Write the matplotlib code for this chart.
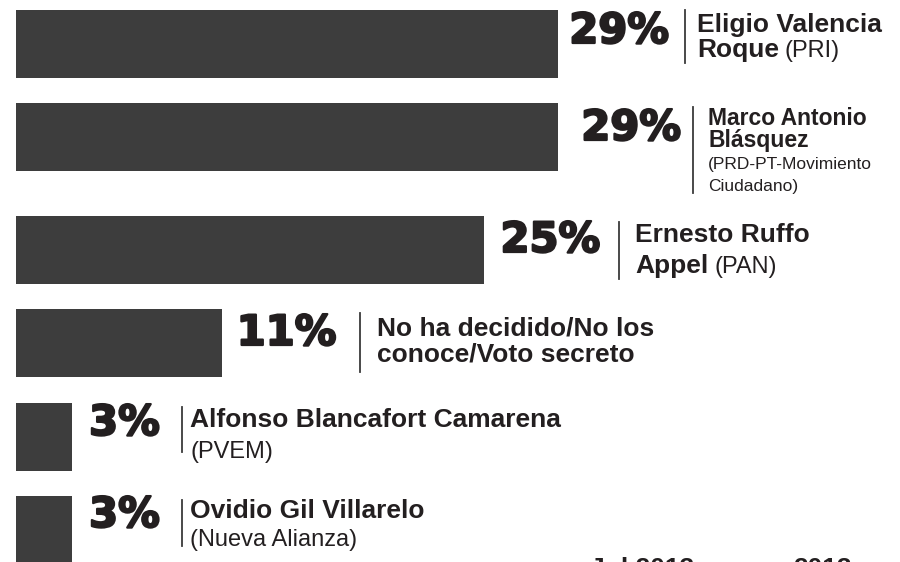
import matplotlib
matplotlib.use("Agg")
import matplotlib.pyplot as plt
import matplotlib.transforms as mtransforms
import matplotlib.patheffects as pe

# ---- data ----
values = [29, 29, 25, 11, 3, 3]
names_bold = [
    ["Eligio Valencia", "Roque"],
    ["Marco Antonio", "Blásquez"],
    ["Ernesto Ruffo", "Appel"],
    ["No ha decidido/No los", "conoce/Voto secreto"],
    ["Alfonso Blancafort Camarena"],
    ["Ovidio Gil Villarelo"],
]
names_normal = [
    [None, "(PRI)"],
    [None, None, "(PRD-PT-Movimiento", "Ciudadano)"],
    [None, "(PAN)"],
    [None, None],
    [None, "(PVEM)"],
    [None, "(Nueva Alianza)"],
]
footer_labels = ["Jul 2013", "2013"]

# ---- layout (pixels from top-left) ----
W, H = 900, 562
bar_centers = [44, 137, 249.5, 343, 437, 530]
bar_height = 68
pct_gap = [11, 23, 17, 15, 17, 17]
pct_base = [43, 140, 252, 345, 435, 527]
sep_x = [685, 693, 619, 360, 182, 182]
sep_y = [(10, 63), (107, 193), (222, 279), (313, 372), (407, 452), (500, 546)]
name_x = [697, 708, 635, 377, 190, 190]
name_base = [[32, 57], [125, 147, 169, 191], [242, 273], [335, 362], [427, 458], [518, 546]]
name_size = [19, 16.5, 19, 19, 19, 19]
normal_size = [17, 12.5, 17, 17, 17, 17]
footer_x = [590, 793]
footer_base = 576

BAR = "#3d3d3d"
TXT = "#231f20"
LINE = "#3a3a3a"
NAME_FONT = "Liberation Sans"
PCT_FONT = "DejaVu Sans"

fig = plt.figure(figsize=(W / 100, H / 100), dpi=100)
fig.patch.set_facecolor("white")
ax = fig.add_axes([0, 0, 1, 1])
scale = 18.7  # px per percentage point
ax.set_xlim(-16 / scale, (W - 16) / scale)
ax.set_ylim(H, 0)
ax.axis("off")

ax.barh(bar_centers, values, height=bar_height, left=0, color=BAR, edgecolor="none")

px = mtransforms.Affine2D().scale(1 / W, -1 / H).translate(0, 1) + fig.transFigure

# percentage labels
heavy = [pe.withStroke(linewidth=1.6, foreground=TXT)]
for v, yb, g in zip(values, pct_base, pct_gap):
    tr = mtransforms.offset_copy(ax.transData, fig=fig, x=g, y=0, units="dots")
    ax.text(v, yb, f"{v}%", transform=tr, ha="left", va="baseline",
            fontsize=30, fontweight="bold", family=PCT_FONT, color=TXT,
            path_effects=heavy)

# separators
for x, (y0, y1) in zip(sep_x, sep_y):
    fig.add_artist(plt.Line2D([x, x], [y0, y1], transform=px, color=LINE, lw=1.3))

renderer = fig.canvas.get_renderer()

# names
for i in range(len(values)):
    bolds = names_bold[i]
    normals = names_normal[i]
    n_lines = max(len(bolds), len(normals))
    for j in range(n_lines):
        yb = name_base[i][j]
        x = name_x[i]
        b = bolds[j] if j < len(bolds) else None
        nrm = normals[j] if j < len(normals) else None
        if b:
            t = fig.text(x, yb, b, transform=px, ha="left", va="baseline",
                         fontsize=name_size[i], fontweight="bold",
                         family=NAME_FONT, color=TXT)
            if nrm:
                bb = t.get_window_extent(renderer)
                x = bb.x1 + 6
        if nrm:
            fig.text(x, yb, nrm, transform=px, ha="left", va="baseline",
                     fontsize=normal_size[i], family=NAME_FONT, color=TXT)

# footer (cut off by figure edge, as in the source image)
for fx, lab in zip(footer_x, footer_labels):
    fig.text(fx, footer_base, lab, transform=px, ha="left", va="baseline",
             fontsize=19, fontweight="bold", family=NAME_FONT, color=TXT)

fig.savefig("out.png", dpi=100, facecolor="white")
